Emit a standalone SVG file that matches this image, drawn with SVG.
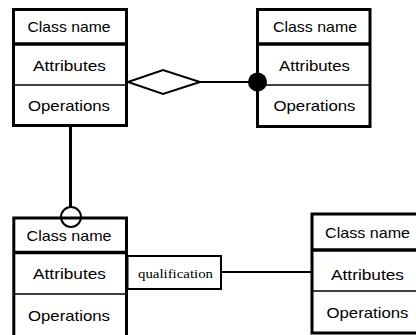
<svg xmlns="http://www.w3.org/2000/svg" width="416" height="335" viewBox="0 0 416 335">
  <style>
    .frame { fill: #fff; stroke: #000; stroke-width: 3; }
    .head { stroke: #000; stroke-width: 3.5; }
    .div { stroke: #000; stroke-width: 1.5; }
    .lbl { font-family: "Liberation Sans", Arial, sans-serif; font-size: 15px; fill: #000; text-anchor: middle; }
    .conn { stroke: #000; stroke-width: 2; fill: none; }
    .qual { font-family: "Liberation Serif", "Times New Roman", serif; font-size: 12px; fill: #000; text-anchor: middle; }
  </style>

  <!-- Class box, top left -->
  <g id="class-top-left">
    <rect class="frame" x="13.5" y="9.5" width="113" height="116"/>
    <line class="head" x1="13.5" y1="44" x2="126.5" y2="44"/>
    <line class="div" x1="13.5" y1="85" x2="125" y2="85"/>
    <text class="lbl" x="69" y="32" textLength="83" lengthAdjust="spacingAndGlyphs">Class name</text>
    <text class="lbl" x="69.5" y="71" textLength="73" lengthAdjust="spacingAndGlyphs">Attributes</text>
    <text class="lbl" x="69" y="111" textLength="82" lengthAdjust="spacingAndGlyphs">Operations</text>
  </g>

  <!-- Class box, top right -->
  <g id="class-top-right">
    <rect class="frame" x="257.5" y="9.5" width="112.5" height="117"/>
    <line class="head" x1="257.5" y1="44" x2="370" y2="44"/>
    <line class="div" x1="257.5" y1="85" x2="369" y2="85"/>
    <text class="lbl" x="315" y="32" textLength="84" lengthAdjust="spacingAndGlyphs">Class name</text>
    <text class="lbl" x="314.5" y="71" textLength="71" lengthAdjust="spacingAndGlyphs">Attributes</text>
    <text class="lbl" x="314.5" y="111" textLength="82" lengthAdjust="spacingAndGlyphs">Operations</text>
  </g>

  <!-- Class box, bottom left (runs past the lower edge) -->
  <g id="class-bottom-left">
    <rect class="frame" x="13.8" y="218" width="112.7" height="130"/>
    <line class="head" x1="13.8" y1="252.5" x2="126.5" y2="252.5"/>
    <line class="div" x1="13.8" y1="294" x2="125" y2="294"/>
    <text class="lbl" x="69" y="241" textLength="85" lengthAdjust="spacingAndGlyphs">Class name</text>
    <text class="lbl" x="69.5" y="279" textLength="73" lengthAdjust="spacingAndGlyphs">Attributes</text>
    <text class="lbl" x="69" y="321" textLength="82" lengthAdjust="spacingAndGlyphs">Operations</text>
  </g>

  <!-- Qualifier box attached to the bottom-left class -->
  <g id="qualifier">
    <rect x="127.5" y="256" width="93.5" height="33" fill="#fff" stroke="#000" stroke-width="2"/>
    <text class="qual" x="175.5" y="278" textLength="75" lengthAdjust="spacingAndGlyphs">qualification</text>
  </g>

  <!-- Class box, bottom right (runs past the right edge) -->
  <g id="class-bottom-right">
    <rect class="frame" x="312" y="214" width="116" height="119"/>
    <line class="head" x1="312" y1="250" x2="428" y2="250"/>
    <line class="div" x1="312" y1="291" x2="428" y2="291"/>
    <text class="lbl" x="367.5" y="238" textLength="85" lengthAdjust="spacingAndGlyphs">Class name</text>
    <text class="lbl" x="367.5" y="280" textLength="73" lengthAdjust="spacingAndGlyphs">Attributes</text>
    <text class="lbl" x="367.5" y="318" textLength="82" lengthAdjust="spacingAndGlyphs">Operations</text>
  </g>

  <!-- Connectors -->
  <g id="connectors">
    <!-- aggregation: hollow diamond to filled dot -->
    <line class="conn" x1="200" y1="82" x2="257" y2="82"/>
    <polygon points="128,82 163,70 200,82 163,94" fill="#fff" stroke="#000" stroke-width="2"/>
    <circle cx="257.5" cy="82" r="9.5" fill="#000"/>
    <!-- vertical link ending in a hollow circle -->
    <line x1="70.5" y1="127" x2="70.5" y2="207" stroke="#000" stroke-width="3"/>
    <circle class="conn" cx="71" cy="217" r="10"/>
    <!-- qualified association -->
    <line class="conn" x1="221" y1="272" x2="312" y2="272"/>
  </g>
</svg>
